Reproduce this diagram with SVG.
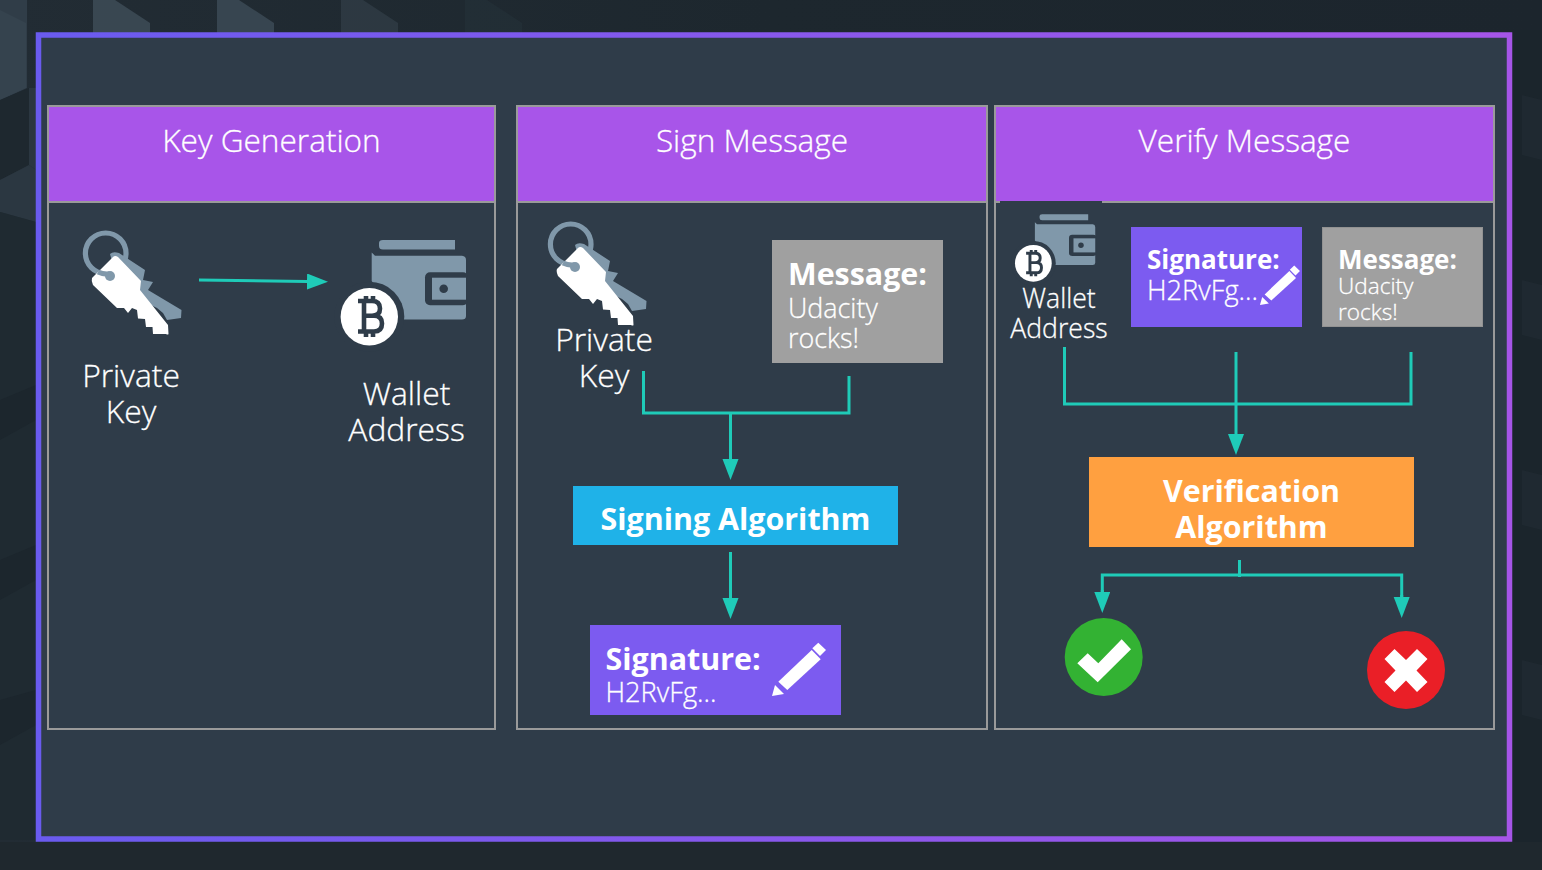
<svg xmlns="http://www.w3.org/2000/svg" width="1542" height="870" viewBox="0 0 1542 870">
<style>
text{font-family:"Open Sans","Noto Sans","Liberation Sans",sans-serif;fill:#fff;font-weight:300;stroke:#fff;stroke-width:.3px}
.h{font-size:31.600px;text-anchor:middle}
.l{font-size:31.800px;text-anchor:middle}
text.b{font-weight:700;stroke:none}
.panel{fill:none;stroke:#9a9a9a;stroke-width:2}
.head{fill:#a855e9;stroke:#9a9a9a;stroke-width:2}
.c{fill:none;stroke:#1fcbb8;stroke-width:3}
.kg{fill:#8098aa}
.f{fill:#5a6e7c}
</style>
<defs>
<linearGradient id="fr" x1="0" x2="1" y1="0" y2="0"><stop offset="0" stop-color="#6a5bef"/><stop offset="1" stop-color="#a655e8"/></linearGradient>
<linearGradient id="bg" x1="0" x2="1" y1="0" y2="0"><stop offset="0" stop-color="#222c34"/><stop offset=".5" stop-color="#1d272e"/><stop offset="1" stop-color="#1c252d"/></linearGradient>
<marker id="ah" markerUnits="userSpaceOnUse" markerWidth="22" markerHeight="18" refX="0" refY="8" orient="auto"><path d="M0 0L21 8L0 16Z" fill="#1fcbb8"/></marker>
<g id="key">
<circle cx="105.700" cy="253.300" r="20.300" fill="none" stroke="#8098aa" stroke-width="5.200"/>
<path class="kg" d="M110 254Q113 251 119 253L145 270L143 280L153 282L148 290L181.500 310L181 318L167 320L163 313L157 308L120 290Z"/>
<path fill="#fff" d="M113 257Q115 255 118 257L141 281L140 290L168 325L168.500 334Q168 335 166 334L153 334L152.500 327L146 327L145 319L138 318.500L137 310L132 308L128 313L124 308L117 308L93 285Q91 281 92 278L100 270Z"/>
<circle cx="110" cy="276" r="5" fill="#8098aa"/>
<path d="M98 272A21 21 0 0 0 109 274" fill="none" stroke="#8098aa" stroke-width="5.200"/>
</g>
<g id="wallet">
<path class="kg" d="M379 243Q379 240 383 240L455 240L455 249.500L383 249.500Q379 249.500 379 246Z"/>
<path class="kg" d="M371.700 252.500L375 255.700L462 255.700Q466 256 466 260L466 316Q466 319.500 462 319.500L400 319.500L371.700 281Z"/>
<rect x="425" y="272.300" width="43" height="33" rx="5" fill="#2f3c49"/>
<rect x="432" y="277.700" width="34" height="22" fill="#8098aa"/>
<circle cx="443.700" cy="288.700" r="4.300" fill="#2f3c49"/>
<circle cx="369.300" cy="316.700" r="35" fill="#2f3c49"/>
<circle cx="369.300" cy="316.700" r="28.700" fill="#fff"/>
<path d="M358 301H372Q380 301 380 308.500Q380 315.700 372 315.700H364M364 315.700H374Q382 315.700 382 323.500Q382 331.500 374 331.500H358M364 301V331.500M366 296V301M373 296V301M366 331.500V337M373 331.500V337" fill="none" stroke="#2f3c49" stroke-width="4.600"/>
</g>
<g id="pencil" fill="#fff">
<path d="M778.300 681.700L811.700 650L820.700 659.300L787.300 690Z"/>
<path d="M775 685L784 694L772 696Z"/>
<path d="M812.300 648.300L818.300 642.700L826 650L820 656Z"/>
</g>
<path id="face" d="M0 0H22L57 23V40H0Z"/>
</defs>
<rect width="1542" height="870" fill="url(#bg)"/>
<g id="background">
<path d="M0 0H27V88L0 100Z" fill="#303d48"/>
<path d="M0 10L26 23V88L0 100Z" fill="#35434e"/>
<use href="#face" class="f" x="93" opacity=".42"/>
<use href="#face" class="f" x="217" opacity=".4"/>
<use href="#face" class="f" x="341" opacity=".22"/>
<use href="#face" class="f" x="465" opacity=".07"/>
<path d="M0 100L29 88V165L0 180Z" fill="#1e282f"/>
<path d="M29 88H36V170L29 165Z" fill="#2b3741"/>
<path d="M0 180L29 165L36 170V222L0 212Z" fill="#2b3741"/>
<path d="M0 212L36 222V840H0Z" fill="#1f2a31"/>
<path d="M0 400L36 385V420L0 440Z M0 560L36 545V580L0 600Z M0 700L36 690V725L0 745Z" fill="#1c262d"/>
<path d="M1512 30H1542V870H1512Z" fill="#1b252c"/>
<path d="M1522 95L1542 100V160L1522 155Z M1522 280L1542 285V340L1522 335Z M1522 470L1542 475V530L1522 525Z M1522 660L1542 665V720L1522 715Z" fill="#1f2931"/>
<path d="M0 842H1542V870H0Z" fill="#1f282e"/>
</g>
<rect id="frame" x="38.500" y="35" width="1471" height="804" fill="#2f3c49" stroke="url(#fr)" stroke-width="5.500"/>
<g id="key-generation">
<rect class="panel" x="48" y="106" width="447" height="623"/>
<rect class="head" x="48" y="106" width="447" height="96"/>
<text class="h" x="271.500" y="152">Key Generation</text>
</g>
<g id="sign-message">
<rect class="panel" x="517" y="106" width="470" height="623"/>
<rect class="head" x="517" y="106" width="470" height="96"/>
<text class="h" x="752" y="152">Sign Message</text>
</g>
<g id="verify-message">
<rect class="panel" x="995" y="106" width="499" height="623"/>
<rect class="head" x="995" y="106" width="499" height="96"/>
<rect x="1000" y="201" width="102" height="2" fill="#2f3c49"/>
<text class="h" x="1244.500" y="152">Verify Message</text>
</g>
<g id="connectors">
<path class="c" d="M199 280L307 281.500" marker-end="url(#ah)"/>
<path class="c" d="M643.500 371V413H849V376"/>
<path class="c" d="M730.500 413V459" marker-end="url(#ah)"/>
<path class="c" d="M730.500 552V598" marker-end="url(#ah)"/>
<path class="c" d="M1064.500 347V404H1411V352"/>
<path class="c" d="M1236 352V434" marker-end="url(#ah)"/>
<path class="c" d="M1239.500 560V577"/>
<path class="c" d="M1102.300 592V575H1401.700V597"/>
<path class="c" d="M1102.300 590V592" marker-end="url(#ah)"/>
<path class="c" d="M1401.700 595V597" marker-end="url(#ah)"/>
</g>
<g id="private-key-1">
<use href="#key"/>
<text class="l"><tspan x="131" y="387">Private</tspan><tspan x="131" y="423">Key</tspan></text>
</g>
<g id="wallet-address-1">
<use href="#wallet"/>
<text class="l"><tspan x="406.500" y="405">Wallet</tspan><tspan x="406.500" y="441">Address</tspan></text>
</g>
<g id="private-key-2">
<use href="#key" transform="translate(465,-9)"/>
<text class="l"><tspan x="604" y="351">Private</tspan><tspan x="604" y="387">Key</tspan></text>
</g>
<g id="message-1">
<rect x="772" y="240" width="171" height="123" fill="#a0a0a0"/>
<text x="788" y="285" font-size="30.400" class="b">Message:</text>
<text x="788" y="318" font-size="26.900">Udacity</text>
<text x="788" y="348" font-size="26.900">rocks!</text>
</g>
<g id="signing-algorithm">
<rect x="573" y="486" width="325" height="59" fill="#1fb2e8"/>
<text x="735.500" y="530" font-size="30.400" class="b" text-anchor="middle">Signing Algorithm</text>
</g>
<g id="signature-1">
<rect x="590" y="625" width="251" height="90" fill="#7c5bf0"/>
<text x="605.500" y="670" font-size="30.400" class="b">Signature:</text>
<text x="605.500" y="702" font-size="27.200">H2RvFg...</text>
<use href="#pencil"/>
</g>
<g id="wallet-address-2">
<use href="#wallet" transform="translate(797,60.600) scale(.64)"/>
<text font-size="26.600" text-anchor="middle"><tspan x="1059" y="308">Wallet</tspan><tspan x="1059" y="338">Address</tspan></text>
</g>
<g id="signature-2">
<rect x="1131" y="227" width="171" height="100" fill="#7c5bf0"/>
<text x="1147" y="269" font-size="26" class="b">Signature:</text>
<text x="1147" y="300" font-size="27.200">H2RvFg...</text>
<use href="#pencil" transform="translate(688.700,-210) scale(.74)"/>
</g>
<g id="message-2">
<rect x="1322.500" y="227.500" width="160" height="99" fill="#a0a0a0" stroke="#929292"/>
<text x="1338" y="269" font-size="26" class="b">Message:</text>
<text x="1338" y="294" font-size="22.600">Udacity</text>
<text x="1338" y="320" font-size="22.600">rocks!</text>
</g>
<g id="verification-algorithm">
<rect x="1089" y="457" width="325" height="90" fill="#ffa040"/>
<text font-size="30.400" class="b" text-anchor="middle"><tspan x="1251.500" y="502">Verification</tspan><tspan x="1251.500" y="538">Algorithm</tspan></text>
</g>
<g id="valid">
<circle cx="1103.700" cy="657" r="39" fill="#33b233"/>
<path fill="#fff" d="M1077.300 663.300L1087.700 653.300L1098.300 663.300L1121.700 639.300L1131 649.300L1097.700 682.300Z"/>
</g>
<g id="invalid">
<circle cx="1406" cy="670" r="39" fill="#ea1f27"/>
<path fill="#fff" d="M1384.500 659L1394.500 649L1406 660L1417 649L1427.500 659L1416.500 670.500L1427.500 682L1417 692L1406 680.500L1394.500 692L1384.500 682L1395.500 670.500Z"/>
</g>
</svg>
